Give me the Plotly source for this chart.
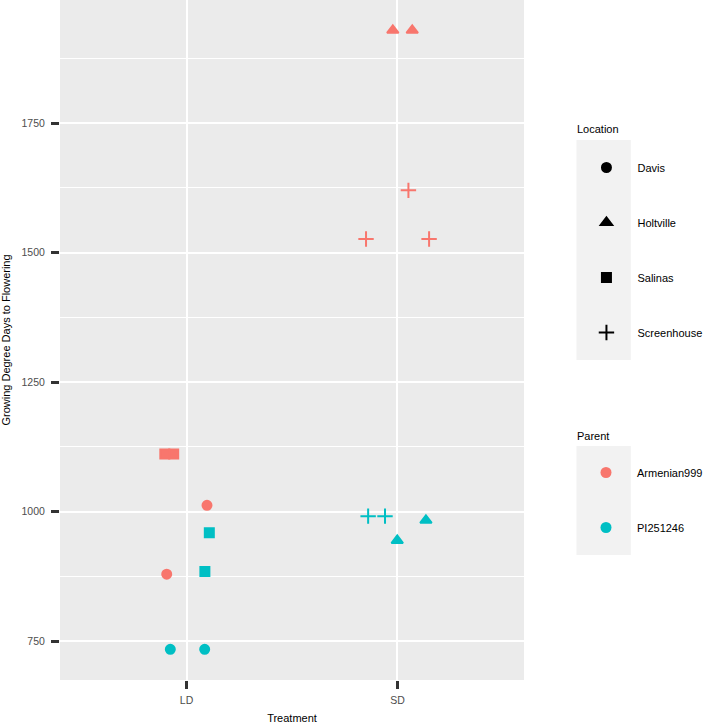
import plotly.graph_objects as go

# data (geom_jitter output)
treatment = ["LD", "LD", "LD", "LD", "SD", "SD", "SD", "SD", "SD",
             "LD", "LD", "LD", "LD", "SD", "SD", "SD", "SD"]
location = ["Salinas", "Salinas", "Davis", "Davis", "Holtville", "Holtville",
            "Screenhouse", "Screenhouse", "Screenhouse",
            "Salinas", "Salinas", "Davis", "Davis",
            "Screenhouse", "Screenhouse", "Holtville", "Holtville"]
parent = ["Armenian999"] * 9 + ["PI251246"] * 8
gdd = [1111, 1111, 1012, 879, 1929, 1929, 1620, 1526, 1526,
       959, 884, 734, 734, 991, 991, 983, 944]
jitter = [-0.103, -0.061, 0.097, -0.094, -0.022, 0.070, 0.052, -0.149, 0.150,
          0.108, 0.087, -0.077, 0.086, -0.139, -0.059, 0.135, -0.001]

treatments = ["LD", "SD"]
locations = ["Davis", "Holtville", "Salinas", "Screenhouse"]
parents = ["Armenian999", "PI251246"]
y_ticks = [750, 1000, 1250, 1500, 1750]
y_minor = [875, 1125, 1375, 1625, 1875]

parent_colors = {"Armenian999": "#F8766D", "PI251246": "#00BFC4"}
loc_symbols = {"Davis": "circle", "Holtville": "triangle-up",
               "Salinas": "square", "Screenhouse": "cross-thin"}
loc_sizes = {"Davis": 9, "Holtville": 10, "Salinas": 9, "Screenhouse": 11}

W, H = 708, 724
L, R, T, B = 60, 179, 0, 44
PW, PH = W - L - R, H - T - B


def px_x(p):
    return (p - L) / PW


def px_y(p):
    return 1 - (p - T) / PH


fig = go.Figure()

for par in parents:
    for loc in locations:
        idx = [i for i in range(len(gdd)) if parent[i] == par and location[i] == loc]
        if not idx:
            continue
        xs = [treatments.index(treatment[i]) + 1 + jitter[i] for i in idx]
        ys = [gdd[i] for i in idx]
        fig.add_trace(go.Scatter(
            x=xs, y=ys, mode="markers", showlegend=False,
            marker=dict(symbol=loc_symbols[loc], size=loc_sizes[loc],
                        color=parent_colors[par],
                        line=dict(width=2, color=parent_colors[par])),
        ))

# legend-only entries
for loc in locations:
    fig.add_trace(go.Scatter(
        x=[None], y=[None], mode="markers", name=loc, legend="legend",
        legendgroup=loc,
        marker=dict(symbol=loc_symbols[loc], size=loc_sizes[loc], color="black",
                    line=dict(width=2, color="black")),
    ))
for par in parents:
    fig.add_trace(go.Scatter(
        x=[None], y=[None], mode="markers", name=par, legend="legend2",
        legendgroup=par,
        marker=dict(symbol="circle", size=11, color=parent_colors[par]),
    ))

font = "Liberation Sans, Arial, sans-serif"
legend_common = dict(
    xanchor="left", yanchor="top", bgcolor="rgba(0,0,0,0)",
    font=dict(family=font, size=11, color="black"),
    tracegroupgap=36, itemwidth=52,
)

fig.update_layout(
    width=W, height=H, autosize=False,
    margin=dict(l=L, r=R, t=T, b=B),
    paper_bgcolor="white", plot_bgcolor="#EBEBEB",
    font=dict(family=font, size=11, color="black"),
    xaxis=dict(
        range=[0.4, 2.6], tickvals=[1, 2], ticktext=treatments,
        showgrid=True, gridcolor="white", gridwidth=2, zeroline=False,
        ticks="outside", ticklen=8, tickwidth=3, tickcolor="#333333",
        tickfont=dict(size=10.5, color="#4D4D4D"), ticklabelstandoff=2,
        title=dict(text="Treatment", standoff=10, font=dict(size=11)),
        automargin=False,
    ),
    yaxis=dict(
        range=[674.7, 1987.5], tickvals=y_ticks,
        showgrid=True, gridcolor="white", gridwidth=2, zeroline=False,
        ticks="outside", ticklen=8, tickwidth=3, tickcolor="#333333",
        tickfont=dict(size=10.5, color="#4D4D4D"), ticklabelstandoff=4,
        minor=dict(tickvals=y_minor, showgrid=True, gridcolor="white",
                   gridwidth=1, ticks=""),
        title=dict(text="Growing Degree Days to Flowering", standoff=9,
                   font=dict(size=11)),
        automargin=False,
    ),
    legend=dict(x=px_x(581), y=px_y(153), **legend_common),
    legend2=dict(x=px_x(581), y=px_y(458), **legend_common),
    annotations=[
        dict(text="Location", xref="paper", yref="paper", showarrow=False,
             x=px_x(581), y=px_y(129), xanchor="left", yanchor="middle",
             font=dict(size=11)),
        dict(text="Parent", xref="paper", yref="paper", showarrow=False,
             x=px_x(581), y=px_y(436), xanchor="left", yanchor="middle",
             font=dict(size=11)),
    ],
    shapes=[
        dict(type="rect", xref="paper", yref="paper", layer="below",
             x0=px_x(582), x1=px_x(637), y0=px_y(140), y1=px_y(360),
             fillcolor="#F2F2F2", line=dict(width=0)),
        dict(type="rect", xref="paper", yref="paper", layer="below",
             x0=px_x(582), x1=px_x(637), y0=px_y(446), y1=px_y(555),
             fillcolor="#F2F2F2", line=dict(width=0)),
    ],
)

fig.write_html(
    "out.html",
    config={"displayModeBar": False, "responsive": False},
    post_script="document.body.style.margin = '0';"
                "document.body.style.overflow = 'hidden';",
)
